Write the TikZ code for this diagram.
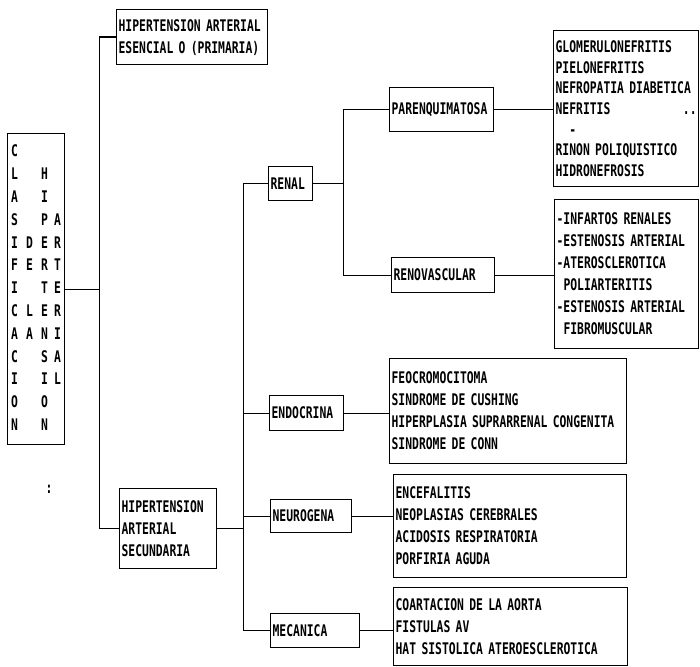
\documentclass[tikz,border=0pt]{standalone}
\usepackage{fontspec}
\newfontfamily\impresora[FakeStretch=0.71,BoldFont={DejaVu Sans Mono Bold}]{DejaVu Sans Mono}
\usepackage{tikz}
\usetikzlibrary{positioning,calc}

\tikzset{caja/.style={draw,line width=1.3pt,align=left,anchor=north west,
    inner xsep=2pt,inner ysep=3pt,font=\impresora\bfseries\fontsize{16}{22}\selectfont}}

\begin{document}
\begin{tikzpicture}[x=1pt,y=-1pt,line width=1.3pt]
\useasboundingbox (0,0) rectangle (700,666);

% raiz
\node[caja,inner sep=0pt,minimum width=57,minimum height=311,
    font=\impresora\bfseries\fontsize{16}{22.8}\selectfont] (clasif) at (7,133)
{\begin{tabular}{@{}p{15pt}@{}p{15pt}@{}p{13pt}@{}p{7pt}@{}}
C& & & \\ L& &H& \\ A& &I& \\ S& &P&A\\ I&D&E&R\\ F&E&R&T\\ I& &T&E\\
C&L&E&R\\ A&A&N&I\\ C& &S&A\\ I& &I&L\\ O& &O& \\ N& &N&
\end{tabular}};
\node[font=\impresora\bfseries\fontsize{16}{22}\selectfont] (puntos) at (49,489) {:};

% primer nivel
\node[caja,text width=147,minimum height=55] (primaria) at (116,9)
    {HIPERTENSION ARTERIAL\\ESENCIAL O (PRIMARIA)};
\node[caja,text width=93,minimum height=80] (secundaria) at (119,488)
    {HIPERTENSION\\ARTERIAL\\SECUNDARIA};

% segundo nivel
\node[caja,text width=40,minimum height=34] (renal) at (268,166) {RENAL};
\node[caja,text width=70,minimum height=35] (endocrina) at (269,395) {ENDOCRINA};
\node[caja,text width=77,minimum height=33] (neurogena) at (270,499) {NEUROGENA};
\node[caja,text width=85,minimum height=34] (mecanica) at (270,613) {MECANICA};

% renal
\node[caja,text width=100,minimum height=44] (parenq) at (389,87) {PARENQUIMATOSA};
\node[caja,text width=99,minimum height=35] (renovasc) at (391,257) {RENOVASCULAR};

% listas
\node[caja,text width=141,minimum height=156,
    font=\impresora\bfseries\fontsize{16}{20.7}\selectfont] (glomer) at (553,30)
    {GLOMERULONEFRITIS\\PIELONEFRITIS\\NEFROPATIA DIABETICA\\NEFRITIS\hfill..\\
     \phantom{RI}-\\RINON POLIQUISTICO\\HIDRONEFROSIS};
\node[caja,text width=140,minimum height=149] (infartos) at (554,199)
    {-INFARTOS RENALES\\-ESTENOSIS ARTERIAL\\-ATEROSCLEROTICA\\\phantom{-}POLIARTERITIS\\
     -ESTENOSIS ARTERIAL\\\phantom{-}FIBROMUSCULAR};
\node[caja,text width=233,minimum height=105] (feocromo) at (389,358)
    {FEOCROMOCITOMA\\SINDROME DE CUSHING\\HIPERPLASIA SUPRARRENAL CONGENITA\\SINDROME DE CONN};
\node[caja,text width=229,minimum height=103] (encef) at (393,474)
    {ENCEFALITIS\\NEOPLASIAS CEREBRALES\\ACIDOSIS RESPIRATORIA\\PORFIRIA AGUDA};
\node[caja,text width=230,minimum height=78] (coart) at (393,587)
    {COARTACION DE LA AORTA\\FISTULAS AV\\HAT SISTOLICA ATEROESCLEROTICA};

% conectores
\coordinate (t1) at ($(clasif.east)+(34,0)$);
\draw (clasif.east) -- (t1);
\draw (primaria.west) -| (t1) |- (secundaria.west);

\coordinate (t2) at ($(secundaria.east)+(26,0)$);
\draw (secundaria.east) -- (t2);
\draw (renal.west) -| (t2) |- (mecanica.west);
\draw (endocrina.west) -- (endocrina.west -| t2);
\draw (neurogena.west) -- (neurogena.west -| t2);

\coordinate (t3) at ($(renal.east)+(30,0)$);
\draw (renal.east) -- (t3);
\draw (parenq.west) -| (t3) |- (renovasc.west);

\draw (parenq.east) -- (parenq.east -| glomer.west);
\draw (renovasc.east) -- (renovasc.east -| infartos.west);
\draw (endocrina.east) -- (endocrina.east -| feocromo.west);
\draw (neurogena.east) -- (neurogena.east -| encef.west);
\draw (mecanica.east) -- (mecanica.east -| coart.west);
\end{tikzpicture}
\end{document}
